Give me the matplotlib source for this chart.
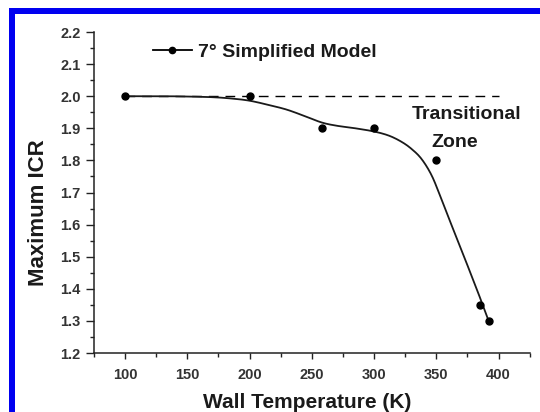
import numpy as np
import matplotlib
matplotlib.use("Agg")
import matplotlib.pyplot as plt
from matplotlib.lines import Line2D
from matplotlib.patches import Rectangle
from matplotlib.ticker import MultipleLocator, FormatStrFormatter

plt.rcParams['font.family'] = ['Liberation Sans', 'DejaVu Sans']

# Measured maximum ICR at each wall temperature
wall_temp = [100, 200, 258, 300, 350, 385, 392]
max_icr = [2.00, 2.00, 1.90, 1.90, 1.80, 1.35, 1.30]

# Smoothed trend curve through the measurements
trend_temp = [100, 130, 150, 170, 185, 200, 216, 230, 245, 258, 270, 285, 300,
              312, 322, 330, 338, 346, 353, 360, 368, 376, 384, 392]
trend_icr = [2.000, 2.000, 1.999, 1.997, 1.993, 1.986, 1.972, 1.958, 1.937, 1.918,
             1.908, 1.900, 1.890, 1.877, 1.858, 1.836, 1.805, 1.755, 1.690, 1.620,
             1.542, 1.463, 1.383, 1.300]

# Reference level
ref_temp = [100, 400]
ref_icr = [2.0, 2.0]

series_label = "7\u00b0 Simplified Model"
zone_lines = ["Transitional", "Zone"]

text_col = "#1a1a1a"
tick_col = "#333333"


def catmull_rom(xs, ys, steps=12):
    """Render a smooth path through the given nodes (Catmull-Rom)."""
    p = np.column_stack([xs, ys]).astype(float)
    p = np.vstack([2 * p[0] - p[1], p, 2 * p[-1] - p[-2]])
    out = []
    t = np.linspace(0, 1, steps, endpoint=False)[:, None]
    for i in range(1, len(p) - 2):
        p0, p1, p2, p3 = p[i - 1], p[i], p[i + 1], p[i + 2]
        seg = 0.5 * ((2 * p1) + (-p0 + p2) * t + (2 * p0 - 5 * p1 + 4 * p2 - p3) * t ** 2
                     + (-p0 + 3 * p1 - 3 * p2 + p3) * t ** 3)
        out.append(seg)
    out.append(p[-2][None, :])
    out = np.vstack(out)
    return out[:, 0], out[:, 1]


fig = plt.figure(figsize=(5.4, 4.12), dpi=100)
ax = fig.add_axes([0.174, 0.1432, 0.807, 0.7791])

# Blue frame along the top and left edges of the figure
W, H = 540.0, 412.0
fig.patches.append(Rectangle((9 / W, 0), 5.5 / W, 1 - 8 / H, transform=fig.transFigure,
                             facecolor="#0000f0", edgecolor="none", zorder=10))
fig.patches.append(Rectangle((9 / W, 1 - 13.5 / H), 1 - 9 / W, 5.5 / H, transform=fig.transFigure,
                             facecolor="#0000f0", edgecolor="none", zorder=10))

ax.plot(ref_temp, ref_icr, color="black", lw=1.0, ls=(0, (7, 5)), zorder=1)
cx, cy = catmull_rom(trend_temp, trend_icr)
ax.plot(cx, cy, color="#1a1a1a", lw=1.3, zorder=2)
ax.plot(wall_temp, max_icr, ls="none", marker="o", ms=5, color="black", zorder=3)

ax.set_xlim(75, 425)
ax.set_ylim(1.2, 2.2)
ax.set_xticks([100, 150, 200, 250, 300, 350, 400])
ax.xaxis.set_minor_locator(MultipleLocator(25))
ax.yaxis.set_major_locator(MultipleLocator(0.1))
ax.yaxis.set_minor_locator(MultipleLocator(0.05))
ax.yaxis.set_major_formatter(FormatStrFormatter("%.1f"))

for side in ("top", "right"):
    ax.spines[side].set_visible(False)
for side in ("left", "bottom"):
    ax.spines[side].set_linewidth(1.1)
    ax.spines[side].set_color("#222222")

ax.tick_params(which="both", direction="out", width=1.0, color="#222222",
               labelsize=10.5, labelcolor=tick_col)
ax.tick_params(axis="y", which="major", length=6, pad=3.5)
ax.tick_params(axis="y", which="minor", length=3)
ax.tick_params(axis="x", which="major", length=4.5, pad=6)
ax.tick_params(axis="x", which="minor", length=3)
for lab in ax.get_xticklabels() + ax.get_yticklabels():
    lab.set_fontweight("bold")

ax.set_xlabel("Wall Temperature (K)", fontsize=15, fontweight="bold", color=text_col)
ax.xaxis.set_label_coords(0.4885, -0.125)
ax.set_ylabel("Maximum ICR", fontsize=16, fontweight="bold", color=text_col)
ax.yaxis.set_label_coords(-0.103, 0.436)

handle = Line2D([], [], color="black", lw=1.3, marker="o", ms=4.5)
leg = ax.legend(handles=[handle], labels=[series_label], loc="center left",
                bbox_to_anchor=(0.135, 0.938), frameon=False, borderpad=0,
                borderaxespad=0, handlelength=2.0, handletextpad=0.3,
                prop={"size": 14, "weight": "bold"})
for t in leg.get_texts():
    t.set_color(text_col)

ax.text(374, 1.944, zone_lines[0], fontsize=14, fontweight="bold", color=text_col,
        ha="center", va="center")
ax.text(365, 1.855, zone_lines[1], fontsize=14, fontweight="bold", color=text_col,
        ha="center", va="center")

fig.savefig("out.png", dpi=100, facecolor="white")
